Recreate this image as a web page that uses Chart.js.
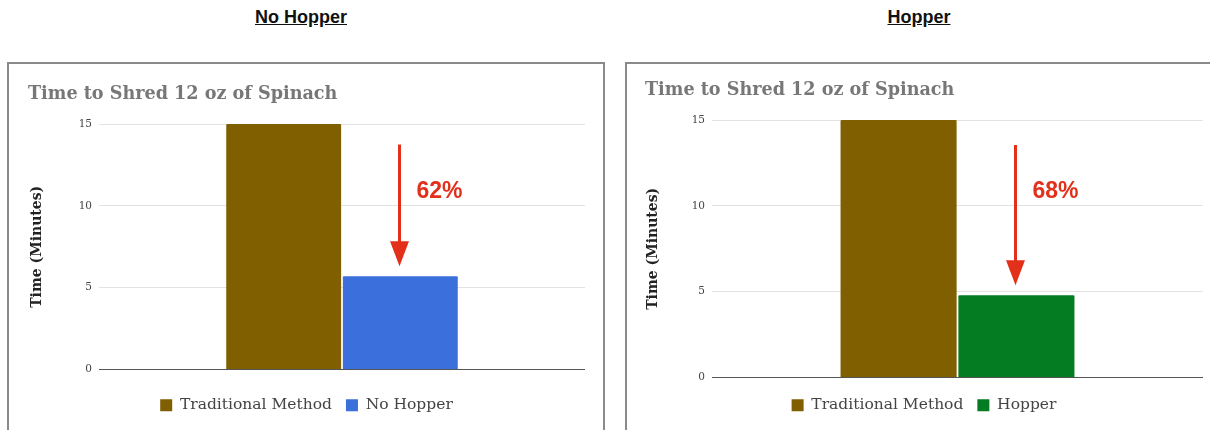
<!DOCTYPE html>
<html>
<head>
<meta charset="utf-8">
<script src="https://cdn.jsdelivr.net/npm/chart.js@4.4.1/dist/chart.umd.min.js"></script>
<style>
  html, body { margin: 0; padding: 0; background: #fff; }
  body { position: relative; width: 1210px; height: 430px; overflow: hidden; font-family: "Liberation Sans", Arial, sans-serif; }
  .heading { position: absolute; top: 7px; width: 200px; text-align: center; font-weight: bold; font-size: 18px; color: #111; text-decoration: underline; }
  .panel { position: absolute; top: 62px; height: 420px; border: 2px solid #8a8a8a; box-sizing: border-box; }
  canvas { position: absolute; }
</style>
</head>
<body>
<div class="heading" style="left:201px">No Hopper</div>
<div class="heading" style="left:819px">Hopper</div>
<div class="panel" style="left:7px;width:598px"></div>
<div class="panel" style="left:625px;width:620px"></div>
<canvas id="leftChart" width="593" height="366" style="left:10px;top:64px"></canvas>
<canvas id="rightChart" width="593" height="366" style="left:628px;top:64px"></canvas>

<script>
// Shredding time, in minutes, for 12 oz of spinach
const chartTitle = 'Time to Shred 12 oz of Spinach';
const axisTitle = 'Time (Minutes)';
const categories = [''];
const yTicks = [0, 5, 10, 15];
const traditionalLabel = 'Traditional Method';
const noHopperLabel = 'No Hopper';
const hopperLabel = 'Hopper';
const traditionalMinutes = [15];
const noHopperMinutes = [5.7];
const hopperMinutes = [4.8];

const SERIF = '"DejaVu Serif", Georgia, serif';
const BROWN = '#7f5f00';
const BLUE = '#3b6fdb';
const GREEN = '#047c22';
const RED = '#e3301a';

// Draws a downward arrow onto the second bar with the percentage reduction next to it
const reductionArrow = {
  id: 'reductionArrow',
  afterDatasetsDraw(chart, args, opts) {
    const ctx = chart.ctx;
    const yScale = chart.scales.y;
    const bar = chart.getDatasetMeta(1).data[0];
    const before = chart.data.datasets[0].data[0];
    const after = chart.data.datasets[1].data[0];
    const pct = Math.round((1 - after / before) * 100);
    const x = Math.round(bar.x) - 0.5;
    const yTop = yScale.getPixelForValue(opts.fromValue);
    const yTip = bar.y - opts.gap;
    const headH = 25, headW = 19;
    ctx.save();
    ctx.strokeStyle = RED;
    ctx.fillStyle = RED;
    ctx.lineWidth = 3;
    ctx.beginPath();
    ctx.moveTo(x, yTop);
    ctx.lineTo(x, yTip - headH + 2);
    ctx.stroke();
    ctx.beginPath();
    ctx.moveTo(x - headW / 2, yTip - headH);
    ctx.lineTo(x + headW / 2, yTip - headH);
    ctx.lineTo(x, yTip);
    ctx.closePath();
    ctx.fill();
    ctx.font = 'bold 23px "Liberation Sans", Arial, sans-serif';
    ctx.textAlign = 'left';
    ctx.textBaseline = 'middle';
    ctx.fillText(pct + '%', x + 17, yScale.getPixelForValue(opts.labelValue));
    ctx.restore();
  }
};

function buildConfig(secondLabel, secondData, secondColor, L) {
  return {
    type: 'bar',
    data: {
      labels: categories,
      datasets: [
        { label: traditionalLabel, data: traditionalMinutes, backgroundColor: BROWN },
        { label: secondLabel, data: secondData, backgroundColor: secondColor }
      ]
    },
    plugins: [reductionArrow],
    options: {
      responsive: false,
      animation: false,
      devicePixelRatio: 1,
      categoryPercentage: 0.48,
      barPercentage: 0.985,
      borderRadius: 1,
      layout: { padding: { left: L.padLeft, right: 18, top: 0, bottom: 7 } },
      plugins: {
        tooltip: { enabled: false },
        title: {
          display: true,
          text: chartTitle,
          align: 'start',
          color: '#777',
          font: { family: SERIF, size: 17.6, weight: 'bold', lineHeight: 1.2 },
          padding: { top: L.titleTop, bottom: L.titleBottom }
        },
        legend: {
          position: 'bottom',
          labels: {
            boxWidth: 12,
            boxHeight: 12,
            padding: 14,
            color: '#444',
            font: { family: SERIF, size: 15.5 }
          }
        },
        reductionArrow: { fromValue: L.arrowFrom, gap: 10, labelValue: 10.85 }
      },
      scales: {
        x: {
          display: true,
          grid: { display: false },
          border: { display: false },
          ticks: { display: false },
          afterFit: s => { s.height = L.xHeight; }
        },
        y: {
          min: 0,
          max: 15,
          afterBuildTicks: s => { s.ticks = yTicks.map(v => ({ value: v })); },
          grid: {
            drawTicks: false,
            color: c => (c.tick && c.tick.value === 0 ? '#555' : '#e2e2e2'),
            lineWidth: 1
          },
          border: { display: false },
          ticks: { padding: 7, color: '#444', font: { family: SERIF, size: 10.5 } },
          title: {
            display: true,
            text: axisTitle,
            color: '#222',
            font: { family: SERIF, size: 14, weight: 'bold', lineHeight: 1.2 },
            padding: { top: L.axisTitlePad, bottom: 0 }
          },
          afterFit: s => { s.width = L.yWidth; }
        }
      }
    }
  };
}

new Chart(document.getElementById('leftChart'),
  buildConfig(noHopperLabel, noHopperMinutes, BLUE,
    { padLeft: 18, yWidth: 71, axisTitlePad: 1, titleTop: 20, titleBottom: 19, xHeight: 14, arrowFrom: 13.75 }));

new Chart(document.getElementById('rightChart'),
  buildConfig(hopperLabel, hopperMinutes, GREEN,
    { padLeft: 17, yWidth: 67, axisTitlePad: 0, titleTop: 16, titleBottom: 19, xHeight: 6, arrowFrom: 13.55 }));
</script>
</body>
</html>
